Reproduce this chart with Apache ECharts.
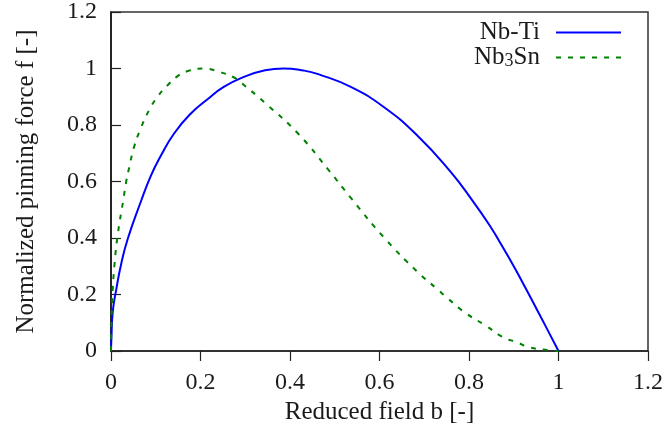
<!DOCTYPE html>
<html>
<head>
<meta charset="utf-8">
<script src="https://cdn.jsdelivr.net/npm/echarts@6/dist/echarts.min.js"></script>
<style>
html,body{margin:0;padding:0;background:#fff;}
#c{width:666px;height:430px;}
</style>
</head>
<body>
<div id="c"></div>
<script>
// Reduced field b and normalized pinning force f
const nbtiB = [0, 0.001, 0.004, 0.012, 0.023, 0.038, 0.067, 0.089, 0.111, 0.141, 0.178, 0.215, 0.252, 0.30, 0.34, 0.385, 0.43, 0.463, 0.537, 0.611, 0.685, 0.759, 0.807, 0.848, 0.87, 0.90, 0.929, 0.959, 0.981, 1.0];
const nbtiF = [0, 0.05, 0.14, 0.22, 0.31, 0.40, 0.53, 0.62, 0.69, 0.77, 0.84, 0.89, 0.935, 0.972, 0.992, 1.0, 0.993, 0.98, 0.934, 0.862, 0.762, 0.634, 0.534, 0.44, 0.382, 0.300, 0.215, 0.125, 0.058, 0];
const nb3snB = [0, 0.001, 0.003, 0.008, 0.0155, 0.027, 0.034, 0.041, 0.052, 0.067, 0.085, 0.104, 0.126, 0.148, 0.17, 0.207, 0.244, 0.274, 0.289, 0.345, 0.419, 0.485, 0.537, 0.611, 0.685, 0.729, 0.752, 0.792, 0.837, 0.877, 0.907, 0.933, 0.966, 1.0];
const nb3snF = [0, 0.09, 0.19, 0.31, 0.417, 0.53, 0.60, 0.652, 0.725, 0.79, 0.852, 0.90, 0.94, 0.972, 0.99, 1.0, 0.987, 0.969, 0.952, 0.877, 0.768, 0.643, 0.54, 0.40, 0.28, 0.219, 0.187, 0.135, 0.09, 0.048, 0.031, 0.014, 0.005, 0];
const seriesNames = ['Nb-Ti', 'Nb3Sn'];
const xTicks = [0, 0.2, 0.4, 0.6, 0.8, 1, 1.2];
const yTicks = [0, 0.2, 0.4, 0.6, 0.8, 1, 1.2];
const xTitle = 'Reduced field b [-]';
const yTitle = 'Normalized pinning force f [-]';

const FONT = '"Liberation Serif", "DejaVu Serif", serif';
const TXT = '#1a1a1a';
const zip = (a, b) => a.map((v, i) => [v, b[i]]);

const chart = echarts.init(document.getElementById('c'), null, {renderer: 'canvas'});
chart.setOption({
  animation: false,
  backgroundColor: '#fff',
  grid: {left: 111, right: 14, top: 12, bottom: 79, show: true, borderColor: '#333', borderWidth: 1.5, containLabel: false},
  legend: {
    orient: 'vertical', right: 44, top: 20, padding: 0, itemWidth: 65, itemHeight: 14, itemGap: 0,
    align: 'right',
    data: seriesNames,
    itemStyle: {opacity: 0},
    formatter: n => n === 'Nb3Sn' ? 'Nb{sub|3}Sn' : n,
    textStyle: {
      fontFamily: FONT, fontSize: 25, lineHeight: 24, color: TXT, padding: [0, 11, 0, 0],
      rich: {sub: {fontFamily: FONT, fontSize: 18, lineHeight: 24, color: TXT, padding: [7, 0, 0, 0]}}
    }
  },
  xAxis: {
    type: 'value', min: xTicks[0], max: xTicks[xTicks.length - 1], interval: 0.2,
    name: xTitle, nameLocation: 'middle', nameGap: 47,
    nameTextStyle: {fontFamily: FONT, fontSize: 25, color: TXT},
    axisLine: {show: true, lineStyle: {color: '#222', width: 1.5}},
    axisTick: {show: true, inside: false, length: 10, lineStyle: {color: '#222', width: 1.2}},
    axisLabel: {margin: 20, fontFamily: FONT, fontSize: 24, color: TXT, formatter: v => String(+v.toFixed(1))},
    splitLine: {show: false}
  },
  yAxis: {
    type: 'value', min: yTicks[0], max: yTicks[yTicks.length - 1], interval: 0.2,
    name: yTitle, nameLocation: 'middle', nameGap: 72, nameRotate: 90,
    nameTextStyle: {fontFamily: FONT, fontSize: 25, color: TXT},
    axisLine: {show: true, lineStyle: {color: '#111', width: 1.5}},
    axisTick: {show: true, inside: true, length: 10, lineStyle: {color: '#222', width: 1.2}},
    axisLabel: {margin: 14, fontFamily: FONT, fontSize: 24, color: TXT, formatter: v => String(+v.toFixed(1))},
    splitLine: {show: false}
  },
  series: [
    {name: seriesNames[0], type: 'line', data: zip(nbtiB, nbtiF), symbol: 'none', smooth: 0.5,
     lineStyle: {color: '#0000ff', width: 2}, itemStyle: {color: '#0000ff'}},
    {name: seriesNames[1], type: 'line', data: zip(nb3snB, nb3snF), symbol: 'none', smooth: 0.5,
     lineStyle: {color: '#008000', width: 2, type: [5, 7]}, itemStyle: {color: '#008000'}}
  ]
});
</script>
</body>
</html>
